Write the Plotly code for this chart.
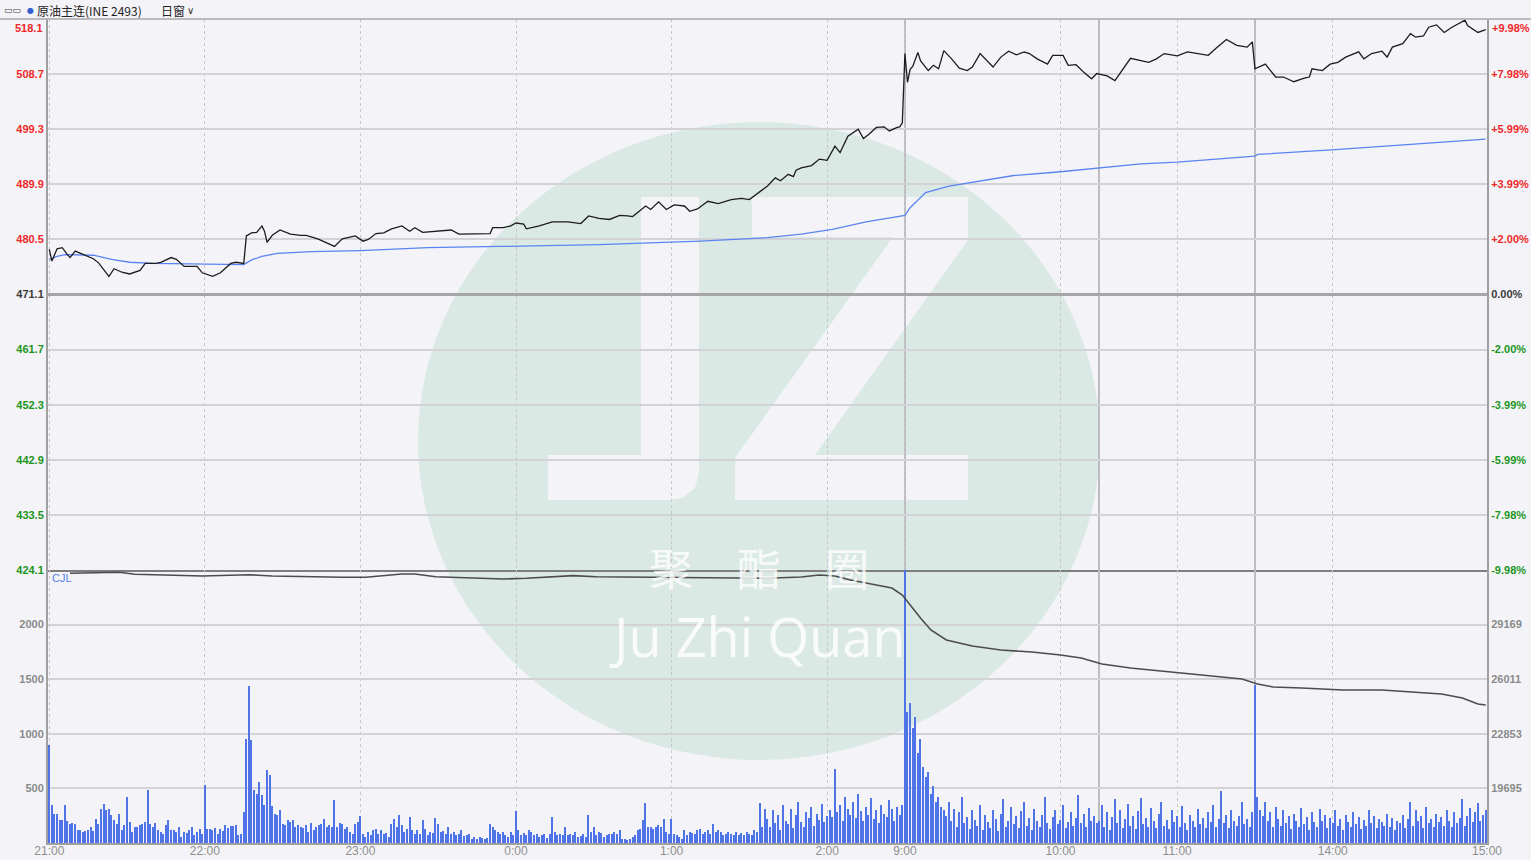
import plotly.graph_objects as go

# ---------------- canvas / layout geometry ----------------
W, H = 1531, 860
ML, MR, MT, MB = 48, 44, 19, 17
PW, PH = W - ML - MR, H - MT - MB
VOL_FRAC = 273 / PH

BG = "#f4f4f8"
RED, GREEN, DARK, GREY = "#f02828", "#1c951c", "#3a3a3a", "#8a8a8a"

# ---------------- time axis (trading sessions) ----------------
sessions = [("21:00", "02:30"), ("09:00", "10:15"), ("10:30", "11:30"), ("13:30", "15:00")]
x_tick_labels = ["21:00", "22:00", "23:00", "0:00", "1:00", "2:00", "9:00", "10:00", "11:00", "14:00", "15:00"]


def to_min(s):
    h, m = map(int, s.split(":"))
    return h * 60 + m


def session_index(t):
    tm = to_min(t)
    off = 0
    for a, b in sessions:
        ta, tb = to_min(a), to_min(b)
        if tb < ta:
            tb += 1440
        tt = tm
        if tt < ta and tt + 1440 <= tb:
            tt += 1440
        if ta <= tt <= tb:
            return off + (tt - ta)
        off += tb - ta
    return off


TOTAL = session_index("15:00")
x_range = [-0.5, TOTAL - 0.5]
x_tick_pos = [min(session_index(t), TOTAL - 0.5) for t in x_tick_labels]
session_breaks = [session_index(b) for a, b in sessions[:-1]]

# ---------------- price (minute index, price) ----------------
prev_settle = 471.1
price_ticks = [424.1, 433.5, 442.9, 452.3, 461.7, 471.1, 480.5, 489.9, 499.3, 508.7, 518.1]
pct_labels = ["-9.98%", "-7.98%", "-5.99%", "-3.99%", "-2.00%", "0.00%",
              "+2.00%", "+3.99%", "+5.99%", "+7.98%", "+9.98%"]

price_minute = [
    0, 1, 3, 5, 7, 8, 10, 14, 17, 19,
    23, 25, 28, 31, 35, 37, 41, 43, 47, 49,
    52, 57, 59, 63, 66, 70, 72, 75, 76, 78,
    80, 82, 83, 84, 86, 89, 93, 97, 99, 102,
    104, 107, 110, 113, 118, 121, 123, 126, 129, 132,
    136, 139, 141, 144, 150, 155, 158, 161, 165, 170,
    171, 175, 178, 180, 183, 184, 189, 194, 200, 205,
    208, 212, 216, 220, 223, 225, 230, 232, 235, 238,
    241, 245, 247, 250, 254, 258, 263, 267, 270, 274,
    277, 280, 282, 285, 287, 288, 290, 294, 297, 300,
    303, 305, 308, 312, 314, 316, 319, 322, 324, 327,
    328, 329, 330, 331, 332, 333, 335, 336, 339, 341,
    343, 345, 348, 351, 354, 356, 359, 364, 367, 370,
    373, 376, 378, 381, 385, 387, 391, 393, 396, 399,
    402, 404, 408, 411, 414, 417, 421, 424, 427, 430,
    435, 439, 443, 447, 450, 454, 458, 462, 464, 465,
    469, 473, 476, 480, 484, 486, 487, 491, 494, 497,
    500, 505, 507, 510, 514, 516, 518, 522, 525, 527,
    530, 532, 535, 538, 541, 546, 547, 551, 554,
]
price_close = [
    478.8, 476.8, 478.9, 479.1, 477.9, 477.4, 478.5, 477.8, 477.2, 476.5,
    474.2, 475.5, 474.9, 474.6, 475.2, 476.4, 476.4, 476.6, 477.4, 477.1,
    475.9, 475.9, 474.8, 474.2, 474.8, 476.4, 476.6, 476.4, 481.1, 481.6,
    481.7, 482.8, 481.9, 480.0, 481.2, 482.1, 481.4, 481.2, 481.2, 480.8,
    480.5, 479.9, 479.3, 480.6, 481.1, 480.2, 480.5, 481.5, 481.6, 482.3,
    482.8, 481.9, 482.5, 481.7, 481.9, 482.1, 481.4, 481.4, 481.5, 481.5,
    482.5, 482.5, 482.8, 483.3, 483.1, 482.3, 482.8, 483.5, 483.5, 483.2,
    484.5, 484.1, 483.9, 484.6, 484.5, 484.4, 486.2, 485.6, 486.9, 485.6,
    486.4, 486.2, 485.3, 485.7, 487.0, 486.6, 487.3, 487.5, 487.3, 488.7,
    489.6, 491.0, 490.5, 491.6, 491.2, 492.3, 492.7, 493.1, 494.2, 494.0,
    496.4, 495.3, 498.1, 499.3, 497.7, 498.4, 499.6, 499.7, 499.0, 499.6,
    499.7, 500.4, 512.2, 507.3, 509.5, 510.0, 512.4, 511.0, 509.3, 510.2,
    509.6, 512.7, 511.3, 509.7, 509.3, 509.9, 512.2, 509.9, 511.6, 512.6,
    512.0, 512.5, 512.2, 511.3, 510.4, 511.9, 511.9, 510.2, 510.3, 509.0,
    507.9, 508.8, 508.4, 507.6, 509.6, 511.4, 511.0, 510.7, 511.3, 512.2,
    511.8, 512.5, 512.2, 511.9, 513.1, 514.6, 513.6, 513.3, 514.2, 509.6,
    510.4, 508.2, 508.2, 507.4, 508.0, 508.2, 509.6, 509.3, 510.4, 510.7,
    511.6, 512.5, 511.3, 512.2, 512.6, 511.6, 513.3, 513.9, 515.6, 515.0,
    515.2, 516.7, 517.1, 515.8, 516.7, 517.9, 517.0, 515.8, 516.3,
]

# average price line
avg_minute = [0, 3, 6, 17, 24, 31, 40, 56, 65, 75,
              78, 82, 88, 101, 120, 146, 174, 183, 212, 251,
              277, 290, 302, 315, 329, 330, 332, 338, 347, 362,
              372, 389, 405, 421, 435, 465, 466, 496, 554]
avg_price = [477.1, 477.6, 477.9, 477.8, 477.1, 476.6, 476.4, 476.3, 476.2, 476.2,
             477.0, 477.6, 478.1, 478.4, 478.6, 479.1, 479.3, 479.4, 479.6, 480.2,
             480.8, 481.4, 482.2, 483.5, 484.5, 484.6, 485.9, 488.5, 489.6, 490.7,
             491.4, 492.0, 492.7, 493.4, 493.7, 494.7, 495.0, 495.8, 497.6]

# open interest line (right axis of the lower panel)
oi_ticks = [19695, 22853, 26011, 29169]
oi_range = [16537, 32327]
oi_minute = [8, 27, 33, 59, 77, 86, 113, 122, 136, 141,
             149, 175, 184, 202, 211, 247, 277, 290, 297, 303,
             309, 317, 325, 329, 332, 336, 340, 346, 356, 367,
             379, 390, 398, 406, 417, 433, 444, 460, 466, 472,
             483, 499, 514, 526, 537, 545, 551, 554]
oi_value = [32137, 32195, 32079, 31980, 32055, 31980, 31905, 31905, 32096, 32096,
            31940, 31807, 31846, 32000, 31940, 31905, 31846, 31923, 32038, 31980,
            31750, 31519, 31287, 30882, 30303, 29551, 28857, 28279, 27932, 27700,
            27584, 27411, 27238, 26890, 26659, 26428, 26254, 26023, 25734, 25560,
            25502, 25387, 25387, 25271, 25155, 24924, 24577, 24519]

# ---------------- volume per minute (segments by start time) ----------------
vol_ticks = [500, 1000, 1500, 2000]
vol_range = [0, 2500]
vol_2100 = [893, 345, 268, 262, 213, 207, 345, 201, 171, 183,
            177, 116, 122, 100, 110, 122, 146, 110, 223, 177,
            314, 360, 299, 314, 253, 207, 177, 268, 116, 162,
            421, 192, 100, 146, 146, 162, 177, 192, 488, 177,
            146, 183, 116, 100, 85, 162, 207, 122, 116, 100,
            146, 55, 100, 91, 116, 146, 70, 100, 128, 85, 527]
vol_2201 = [131, 131, 116, 140, 85, 131, 110, 162, 140, 156,
            152, 162, 70, 85, 284, 954, 1442, 939, 488, 451,
            558, 436, 345, 671, 619, 335, 262, 253, 299, 177,
            162, 207, 192, 207, 146, 162, 146, 140, 162, 100,
            183, 122, 146, 162, 177, 223, 146, 162, 146, 390,
            146, 183, 177, 131, 146, 100, 85, 177, 192, 244]
vol_2301 = [85, 55, 100, 70, 116, 131, 85, 116, 79, 91,
            55, 177, 223, 146, 253, 162, 100, 131, 238, 116,
            85, 122, 85, 213, 131, 70, 100, 91, 232, 177,
            100, 110, 85, 146, 85, 100, 70, 85, 116, 61,
            70, 79, 40, 55, 40, 55, 49, 40, 49, 177,
            146, 122, 100, 85, 100, 70, 55, 100, 70, 293]
vol_0001 = [116, 70, 91, 70, 122, 100, 70, 85, 55, 70,
            85, 49, 85, 238, 100, 70, 85, 70, 146, 70,
            85, 70, 100, 55, 61, 85, 55, 253, 100, 146,
            70, 100, 91, 55, 70, 85, 79, 100, 85, 116,
            40, 40, 24, 40, 55, 70, 116, 131, 207, 366,
            146, 146, 131, 146, 162, 146, 223, 100, 85, 223]
vol_0101 = [85, 70, 55, 40, 116, 70, 100, 91, 79, 116,
            131, 85, 100, 116, 79, 177, 100, 122, 100, 70,
            85, 100, 85, 70, 100, 70, 91, 70, 100, 85,
            70, 116, 100, 366, 146, 314,
            220, 150, 300, 180, 260, 120, 350, 200, 170, 310,
            140, 260, 380, 190, 150, 280, 230, 330, 160, 270,
            210, 360, 190, 250,
            300, 240, 680, 280, 350, 200, 420, 310, 260, 380,
            230, 450, 290, 200, 330, 260, 410, 220, 300, 180,
            350, 270, 240, 390, 310, 200, 330, 260, 350]
vol_0900 = [2600, 1200, 1280, 1050, 1150, 820, 950, 700, 600, 650,
            450, 520, 380, 420, 330, 300,
            250, 380, 200, 310, 150, 280, 420, 180, 240, 130,
            300, 210, 160, 350, 120, 260, 190, 140, 300, 220,
            110, 270, 400, 150, 200, 330, 170, 250, 140, 290,
            380, 160, 230, 120, 310, 200, 150, 260, 420, 180,
            130, 240, 300, 170, 210, 350, 140, 190, 280, 160,
            230, 440, 180, 270, 150, 320, 200, 250, 180]
vol_1030 = [200, 350, 150, 280, 120, 240, 400, 180, 300, 140,
            220, 360, 160, 250, 130, 290, 410, 170, 230, 150,
            320, 200, 140, 270, 380, 160, 210, 130, 300, 190,
            250, 150, 340, 180, 120, 260, 200, 150, 310, 170,
            230, 140, 280, 190, 350, 150, 220, 480, 180, 260,
            140, 300, 200, 160, 250, 380, 170, 220, 150, 280]
vol_1330 = [1450,
            420, 300, 250, 380, 200, 280, 150, 330, 220, 160,
            300, 180, 250, 130, 270, 200, 150, 320, 170, 240,
            120, 280, 190, 150, 310, 200, 260, 140, 230, 180,
            300, 160, 220, 120, 260, 190, 150, 280, 170, 240,
            130, 210, 160, 300, 180, 250, 140, 220, 190, 160,
            270, 150, 230, 120, 200, 180, 260, 140, 220, 380,
            160, 300, 200, 250, 140, 330, 180, 220, 150, 270,
            190, 240, 160, 300, 200, 150, 280, 180, 230, 400,
            160, 250, 320, 190, 280, 370, 200, 260, 300]

volume_segments = [("21:00", vol_2100), ("22:01", vol_2201), ("23:01", vol_2301),
                   ("0:01", vol_0001), ("1:01", vol_0101), ("9:00", vol_0900),
                   ("10:30", vol_1030), ("13:30", vol_1330)]
vol_x, vol_y = [], []
for start, seg in volume_segments:
    s = session_index(start)
    vol_x += [s + i for i in range(len(seg))]
    vol_y += seg

# ---------------- figure ----------------
fig = go.Figure()
fig.add_trace(go.Bar(x=vol_x, y=vol_y, xaxis="x2", yaxis="y3", width=0.5,
                     marker=dict(color="#4f74e8", line=dict(width=0)), hoverinfo="skip"))
fig.add_trace(go.Scatter(x=oi_minute, y=oi_value, xaxis="x2", yaxis="y4", mode="lines",
                         line=dict(color="#4c4c4c", width=1.6), hoverinfo="skip"))
fig.add_trace(go.Scatter(x=avg_minute, y=avg_price, xaxis="x", yaxis="y", mode="lines",
                         line=dict(color="#5a84f0", width=1.3), hoverinfo="skip"))
fig.add_trace(go.Scatter(x=price_minute, y=price_close, xaxis="x", yaxis="y", mode="lines",
                         line=dict(color="#1c1c1c", width=1.3), hoverinfo="skip"))
fig.add_trace(go.Scatter(x=price_minute, y=[(p - prev_settle) / prev_settle * 100 for p in price_close],
                         xaxis="x", yaxis="y2", mode="lines",
                         line=dict(color="rgba(0,0,0,0)", width=0), hoverinfo="skip"))


def colored(text, v):
    c = RED if v > prev_settle + 1e-9 else (GREEN if v < prev_settle - 1e-9 else DARK)
    return f'<span style="color:{c}"><b>{text}</b></span>'


left_text = [colored(f"{t:.1f}", t) if t != price_ticks[-1] else "" for t in price_ticks]
pct_vals = [(t - prev_settle) / prev_settle * 100 for t in price_ticks]
right_text = [colored(l, t) if t != price_ticks[-1] else "" for l, t in zip(pct_labels, price_ticks)]
pct_range = [pct_vals[0], pct_vals[-1]]

tick_font = dict(family="Liberation Sans, Arial, sans-serif", size=11)
xgrid = dict(showgrid=True, gridcolor="#c6c6cc", gridwidth=1, griddash="3px,3px",
             minor=dict(tickmode="array", tickvals=session_breaks, showgrid=True,
                        gridcolor="#bcbcc2", gridwidth=1.5, griddash="solid"),
             tickmode="array", tickvals=x_tick_pos, range=x_range, zeroline=False,
             ticks="", fixedrange=True, automargin=False)

fig.update_layout(
    width=W, height=H, margin=dict(l=ML, r=MR, t=MT, b=MB, pad=0, autoexpand=False),
    paper_bgcolor=BG, plot_bgcolor=BG, showlegend=False, bargap=0,
    xaxis=dict(domain=[0, 1], anchor="y", showticklabels=False,
               showline=True, linecolor="#7e7e7e", linewidth=2, **xgrid),
    xaxis2=dict(domain=[0, 1], anchor="y3", matches="x", showticklabels=True,
                ticktext=x_tick_labels, ticklabelstandoff=-4,
                tickfont=dict(family="Liberation Sans Narrow, Arial Narrow, Liberation Sans, sans-serif",
                              size=12, color="#8e8e8e"),
                showline=True, linecolor="#a0a0a0", linewidth=1.5, **xgrid),
    yaxis=dict(domain=[VOL_FRAC, 1], anchor="x", range=[price_ticks[0], price_ticks[-1]],
               tickmode="array", tickvals=price_ticks, ticktext=left_text, tickfont=tick_font,
               showgrid=True, gridcolor="#d2d2d7", gridwidth=1.5, zeroline=False, ticks="",
               showline=True, linecolor="#a0a0a0", linewidth=2, fixedrange=True, automargin=False),
    yaxis2=dict(overlaying="y", side="right", anchor="x", range=pct_range,
                tickmode="array", tickvals=pct_vals, ticktext=right_text, tickfont=tick_font,
                showgrid=False, zeroline=True, zerolinecolor="#a6a6a6", zerolinewidth=3,
                ticks="", showline=True, linecolor="#a0a0a0", linewidth=2, fixedrange=True,
                automargin=False),
    yaxis3=dict(domain=[0, VOL_FRAC], anchor="x2", range=vol_range,
                tickmode="array", tickvals=vol_ticks,
                ticktext=[f"<b>{v}</b>" for v in vol_ticks],
                tickfont=dict(family="Liberation Sans, Arial, sans-serif", size=11, color=GREY),
                showgrid=True, gridcolor="#d2d2d7", gridwidth=1.5, zeroline=False, ticks="",
                showline=True, linecolor="#a0a0a0", linewidth=2, fixedrange=True, automargin=False),
    yaxis4=dict(overlaying="y3", side="right", anchor="x2", range=oi_range,
                tickmode="array", tickvals=oi_ticks,
                ticktext=[f"<b>{v}</b>" for v in oi_ticks],
                tickfont=dict(family="Liberation Sans, Arial, sans-serif", size=11, color=GREY),
                showgrid=False, zeroline=False, ticks="",
                showline=True, linecolor="#a0a0a0", linewidth=2, fixedrange=True, automargin=False),
)


# ---------------- watermark & decorations (pixel geometry -> paper) ----------------
def px(x):
    return (x - ML) / PW


def py(y):
    return (H - MB - y) / PH


def path(points):
    d = "M " + " L ".join(f"{px(a):.5f},{py(b):.5f}" for a, b in points) + " Z"
    return d


shapes = [
    dict(type="circle", xref="paper", yref="paper", x0=px(418), x1=px(1100), y0=py(760), y1=py(122),
         fillcolor="#dbe9e5", line=dict(width=0), layer="below"),
    dict(type="path", xref="paper", yref="paper", layer="below", fillcolor=BG, line=dict(width=0),
         path=path([(641, 197), (699, 197), (699, 472), (695, 488), (682, 498), (668, 500), (548, 500),
                    (548, 455), (641, 455)])),
    dict(type="path", xref="paper", yref="paper", layer="below", fillcolor=BG, line=dict(width=0),
         path=path([(752, 197), (968, 197), (968, 240), (815, 455), (968, 455), (968, 500),
                    (735, 500), (735, 458), (893, 237), (752, 237)])),
    dict(type="line", xref="paper", yref="paper", x0=px(0), x1=px(W), y0=py(19), y1=py(19),
         line=dict(color="#a8a8a8", width=1.5)),
]
fig.update_layout(shapes=shapes)

ann = [
    dict(x=px(759), y=py(567), yanchor="middle", text="聚\u3000酯\u3000圈", showarrow=False,
         font=dict(family="Noto Sans CJK SC", size=44, color="rgba(255,255,255,0.8)")),
    dict(x=px(757), y=py(636), yanchor="middle", text="Ju Zhi Quan", showarrow=False,
         font=dict(family="Open Sans, Noto Sans", size=54, color="rgba(255,255,255,0.8)")),
    dict(x=0, y=1, xshift=-3, yshift=-1, xanchor="right", yanchor="top", showarrow=False,
         text=colored(f"{price_ticks[-1]:.1f}", price_ticks[-1]), font=tick_font),
    dict(x=1, y=1, xshift=3, yshift=-1, xanchor="left", yanchor="top", showarrow=False,
         text=colored(pct_labels[-1], price_ticks[-1]), font=tick_font),
    dict(x=px(50), y=py(578), xanchor="left", yanchor="middle", showarrow=False, text="CJL",
         font=dict(family="Liberation Sans, Arial", size=11, color="#5a7de8")),
    dict(x=px(2), y=py(10), xanchor="left", yanchor="middle", showarrow=False, text="▭▭",
         font=dict(family="DejaVu Sans", size=9, color="#444444")),
    dict(x=px(25), y=py(10), xanchor="left", yanchor="middle", showarrow=False, text="●",
         font=dict(family="DejaVu Sans", size=8, color="#2f5fd0")),
    dict(x=px(35), y=py(10), xanchor="left", yanchor="middle", showarrow=False,
         text="原油主连(INE 2493)",
         font=dict(family="Noto Sans CJK SC", size=12, color="#222222")),
    dict(x=px(159), y=py(10), xanchor="left", yanchor="middle", showarrow=False, text="日窗",
         font=dict(family="Noto Sans CJK SC", size=12, color="#222222")),
    dict(x=px(185), y=py(10), xanchor="left", yanchor="middle", showarrow=False, text="∨",
         font=dict(family="DejaVu Sans", size=10, color="#333333")),
]
for a in ann:
    a.setdefault("xref", "paper")
    a.setdefault("yref", "paper")
fig.update_layout(annotations=ann)

fig.write_html("out.html", config={"displayModeBar": False},
               post_script="document.body.style.margin='0';document.body.style.overflow='hidden';")
